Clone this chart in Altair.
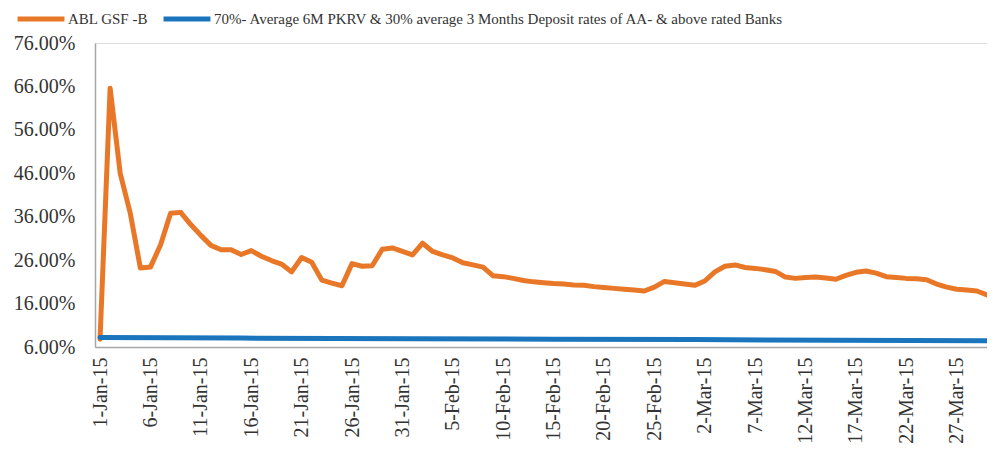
import altair as alt
import pandas as pd

ORANGE = "#E87828"
BLUE = "#1B75BC"
FONT = "Liberation Serif"

fund_name = "ABL GSF -B"
bench_name = "70%- Average 6M PKRV & 30% average 3 Months Deposit rates of AA- & above rated Banks"

# ABL GSF -B daily return (%), 1-Jan-15 .. 30-Mar-15
fund_dates = pd.date_range("2015-01-01", "2015-03-30", freq="D").strftime("%Y-%m-%dT00:00:00Z").tolist()
fund_values = [
    7.8, 65.6, 46.0, 36.8, 24.2, 24.4, 29.5, 36.8, 37.0, 34.2,
    31.7, 29.4, 28.4, 28.4, 27.3, 28.2, 26.9, 25.9, 25.1, 23.3,
    26.6, 25.5, 21.4, 20.7, 20.1, 25.2, 24.6, 24.7, 28.5, 28.8,
    28.0, 27.2, 29.9, 28.0, 27.2, 26.5, 25.4, 24.9, 24.4, 22.4,
    22.2, 21.8, 21.3, 21.0, 20.8, 20.6, 20.5, 20.3, 20.2, 19.9,
    19.7, 19.5, 19.3, 19.1, 18.9, 19.8, 21.1, 20.8, 20.5, 20.2,
    21.2, 23.3, 24.6, 24.9, 24.3, 24.1, 23.8, 23.4, 22.1, 21.8,
    22.0, 22.1, 21.9, 21.6, 22.5, 23.2, 23.5, 23.0, 22.2, 22.0,
    21.8, 21.7, 21.5, 20.5, 19.8, 19.3, 19.1, 18.9, 18.0,
]

# Benchmark (%), read at a few dates
bench_dates = ["2015-01-01T00:00:00Z", "2015-01-15T00:00:00Z", "2015-02-01T00:00:00Z",
               "2015-02-15T00:00:00Z", "2015-03-01T00:00:00Z", "2015-03-15T00:00:00Z",
               "2015-03-30T00:00:00Z"]
bench_values = [8.2, 8.05, 7.9, 7.8, 7.7, 7.55, 7.45]

y_ticks = [6, 16, 26, 36, 46, 56, 66, 76]
x_tick_dates = ["2015-01-01", "2015-01-06", "2015-01-11", "2015-01-16", "2015-01-21",
                "2015-01-26", "2015-01-31", "2015-02-05", "2015-02-10", "2015-02-15",
                "2015-02-20", "2015-02-25", "2015-03-02", "2015-03-07", "2015-03-12",
                "2015-03-17", "2015-03-22", "2015-03-27"]


def ms(s):
    return int(pd.Timestamp(s, tz="UTC").value // 10**6)


x_tick_ms = [ms(d) for d in x_tick_dates]
x_domain = [ms("2014-12-31 12:00"), ms("2015-03-30 00:00")]

rows = [{"date": d, "value": v, "series": fund_name} for d, v in zip(fund_dates, fund_values)]
rows += [{"date": d, "value": v, "series": bench_name} for d, v in zip(bench_dates, bench_values)]
df = pd.DataFrame(rows)

color = alt.Color(
    "series:N",
    scale=alt.Scale(domain=[fund_name, bench_name], range=[ORANGE, BLUE]),
    legend=alt.Legend(
        title=None, orient="none", legendX=-80, legendY=-50, direction="horizontal",
        symbolType="stroke", symbolStrokeWidth=5, symbolSize=2200,
        labelFont=FONT, labelFontSize=15, labelColor="#333333", labelLimit=1000,
        labelOffset=1, columnPadding=4,
    ),
)

base = alt.Chart(df).encode(
    x=alt.X(
        "date:T",
        scale=alt.Scale(type="utc", domain=x_domain),
        axis=alt.Axis(
            title=None, values=x_tick_ms, labelAngle=270, ticks=False, grid=False,
            labelExpr="utcFormat(datum.value, '%-d-%b-%y')", labelPadding=10,
            labelFont=FONT, labelFontSize=20, labelColor="#333333",
            domainColor="#A6A6A6", domainWidth=1.5, labelOverlap=False,
        ),
    ),
    y=alt.Y(
        "value:Q",
        scale=alt.Scale(domain=[6, 76], nice=False, zero=False),
        axis=alt.Axis(
            title=None, values=y_ticks, ticks=False, grid=False,
            labelExpr="format(datum.value, '.2f') + '%'", labelPadding=20,
            labelFont=FONT, labelFontSize=20, labelColor="#333333",
            domainColor="#A6A6A6", domainWidth=1.5,
        ),
    ),
    color=color,
)

fund = base.transform_filter(alt.datum.series == fund_name).mark_line(
    strokeWidth=5, strokeCap="round", strokeJoin="round"
)
bench = base.transform_filter(alt.datum.series == bench_name).mark_line(
    strokeWidth=5, strokeCap="round", strokeJoin="round"
)

chart = (
    alt.layer(fund, bench)
    .properties(
        width=892, height=304,
        autosize=alt.AutoSizeParams(type="none"),
        padding={"left": 87, "top": 35, "right": 0, "bottom": 98},
    )
    .configure_view(stroke=None)
    .configure(background="white")
)

chart.save("out.html", embed_options={"renderer": "svg", "actions": False})
